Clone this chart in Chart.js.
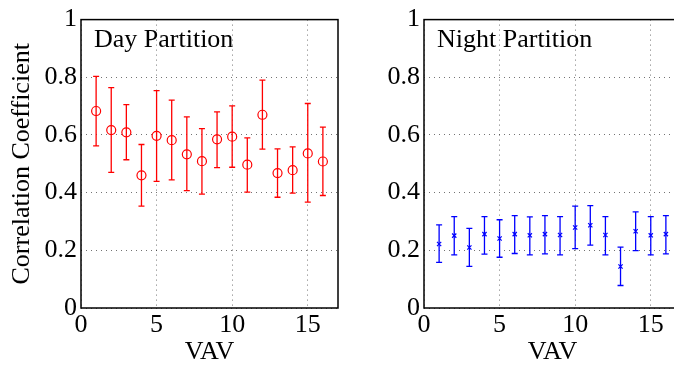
<!DOCTYPE html>
<html>
<head>
<meta charset="utf-8">
<script src="https://cdn.jsdelivr.net/npm/chart.js@4/dist/chart.umd.min.js"></script>
<style>
  html,body{margin:0;padding:0;background:#fff;overflow:hidden;width:674px;height:368px;}
  .panel{position:absolute;top:0;width:360px;height:368px;}
  #left-wrap{left:0;}
  #right-wrap{left:343px;}
</style>
</head>
<body>
<div class="panel" id="left-wrap"><canvas id="day-chart"></canvas></div>
<div class="panel" id="right-wrap"><canvas id="night-chart"></canvas></div>
<script>
(function () {
  'use strict';

  /* data */
  var vav       = [1,2,3,4,5,6,7,8,9,10,11,12,13,14,15,16];
  var dayMean   = [0.683,0.617,0.609,0.460,0.597,0.582,0.533,0.509,0.585,0.594,0.497,0.670,0.468,0.478,0.536,0.508];
  var dayLo     = [0.562,0.470,0.514,0.353,0.439,0.444,0.407,0.395,0.487,0.488,0.402,0.551,0.384,0.398,0.367,0.390];
  var dayHi     = [0.803,0.764,0.705,0.567,0.754,0.721,0.663,0.622,0.680,0.701,0.590,0.790,0.552,0.559,0.709,0.627];
  var nightMean = [0.222,0.251,0.210,0.256,0.241,0.256,0.252,0.256,0.253,0.279,0.287,0.253,0.144,0.266,0.252,0.256];
  var nightLo   = [0.158,0.184,0.144,0.187,0.176,0.189,0.184,0.188,0.184,0.206,0.218,0.184,0.078,0.199,0.184,0.188];
  var nightHi   = [0.288,0.317,0.276,0.317,0.306,0.320,0.316,0.320,0.317,0.353,0.355,0.317,0.211,0.333,0.317,0.320];
  var xTicks    = [0,5,10,15];
  var yTicks    = [0,0.2,0.4,0.6,0.8,1];

  var FONT = 'Liberation Serif, Times New Roman, serif';

  function pts(xs,ys){return xs.map(function(x,i){return {x:x,y:ys[i]};});}
  function fixTicks(list){return function(s){s.ticks=list.map(function(v){return {value:v};});};}

  /* error bars + box frame + panel caption */
  var panelPlugin = {
    id:'panelDeco',
    beforeDatasetsDraw:function(chart){
      var o=chart.options.plugins.panelDeco, ctx=chart.ctx, a=chart.chartArea;
      var xs=chart.scales.x, ys=chart.scales.y;
      ctx.save();
      ctx.strokeStyle=o.color; ctx.lineWidth=o.barWidth;
      o.x.forEach(function(v,i){
        var px=xs.getPixelForValue(v), t=ys.getPixelForValue(o.hi[i]), b=ys.getPixelForValue(o.lo[i]);
        ctx.beginPath();
        ctx.moveTo(px,t); ctx.lineTo(px,b);
        ctx.moveTo(px-3,t); ctx.lineTo(px+3,t);
        ctx.moveTo(px-3,b); ctx.lineTo(px+3,b);
        ctx.stroke();
      });
      ctx.strokeStyle='#000'; ctx.lineWidth=1.5;
      ctx.strokeRect(a.left,a.top,a.right-a.left,a.bottom-a.top);
      ctx.fillStyle='#000'; ctx.font='26px '+FONT;
      ctx.textBaseline='alphabetic'; ctx.textAlign='left';
      ctx.fillText(o.caption,a.left+13,a.top+27);
      ctx.restore();
    }
  };

  function makeChart(id,mean,lo,hi,color,style,radius,caption,showTitle){
    return new Chart(document.getElementById(id),{
      type:'scatter',
      data:{datasets:[{
        data:pts(vav,mean),
        pointStyle:style, pointRadius:radius, pointHoverRadius:radius,
        pointBorderColor:color, pointBackgroundColor:'rgba(0,0,0,0)', pointBorderWidth:1.2
      }]},
      options:{
        responsive:false, animation:false, devicePixelRatio:1,
        layout:{padding:{top:18,right:22,left:0,bottom:0}},
        plugins:{
          legend:{display:false}, tooltip:{enabled:false},
          panelDeco:{x:vav,lo:lo,hi:hi,color:color,barWidth:1.3,caption:caption}
        },
        scales:{
          x:{
            type:'linear', min:0, max:17,
            afterBuildTicks:fixTicks(xTicks),
            afterFit:function(s){s.height=60;},
            ticks:{color:'#000',font:{family:FONT,size:26},padding:2,maxRotation:0,autoSkip:false},
            grid:{color:'rgba(0,0,0,0.55)',lineWidth:1,drawTicks:false,tickBorderDash:[1,4]},
            border:{display:false,dash:[1,4]},
            title:{display:true,text:'VAV',color:'#000',font:{family:FONT,size:26},padding:{top:0,bottom:0}}
          },
          y:{
            type:'linear', min:0, max:1,
            afterBuildTicks:fixTicks(yTicks),
            afterFit:function(s){s.width=81;},
            ticks:{color:'#000',font:{family:FONT,size:26},padding:4,callback:function(v){return String(v);}},
            grid:{color:'rgba(0,0,0,0.55)',lineWidth:1,drawTicks:false},
            border:{display:false,dash:[1,4]},
            title:{display:showTitle,text:'Correlation Coefficient',color:'#000',font:{family:FONT,size:26},padding:{top:7,bottom:0}}
          }
        }
      },
      plugins:[panelPlugin]
    });
  }

  [document.getElementById('day-chart'),document.getElementById('night-chart')].forEach(function(c){c.width=360;c.height=368;});
  makeChart('day-chart',dayMean,dayLo,dayHi,'#ff0000','circle',4.5,'Day Partition',true);
  makeChart('night-chart',nightMean,nightLo,nightHi,'#0000ff','crossRot',3,'Night Partition',false);

})();
</script>
</body>
</html>
